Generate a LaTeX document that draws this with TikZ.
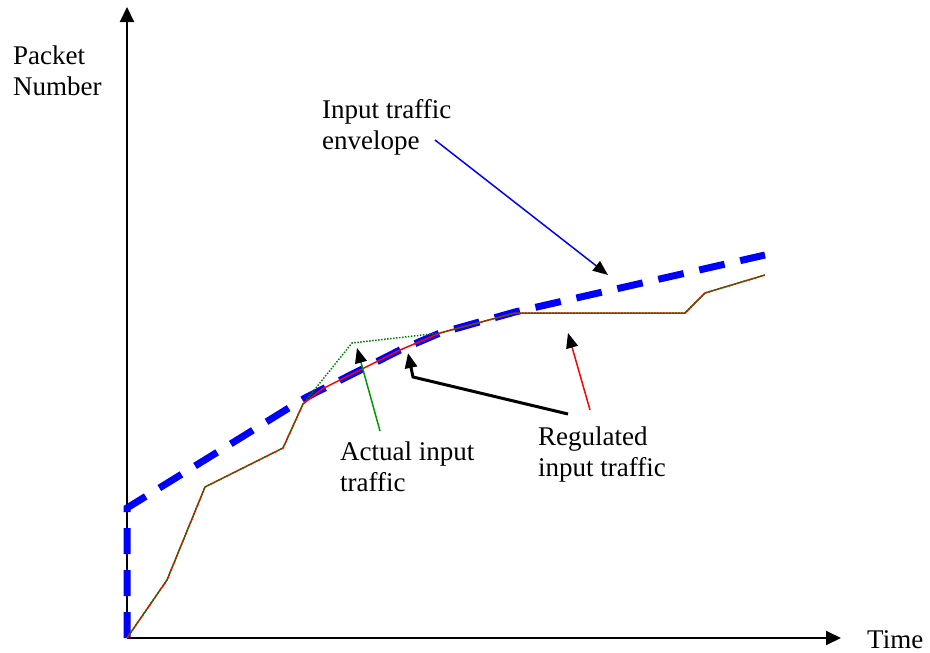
\documentclass[tikz,border=0pt]{standalone}
\usepackage{fontspec}
\setmainfont{Liberation Serif}
\usetikzlibrary{positioning,arrows.meta}

\begin{document}
\begin{tikzpicture}[x=1pt, y=-1pt, font=\fontsize{27}{31}\selectfont,
	axis/.style={line width=2pt, -{Triangle[length=15pt, width=14pt]}},
	pointer/.style={line width=1.5pt, -{Triangle[black, length=15pt, width=12pt]}},
	envelope/.style={blue, line width=7pt, dash pattern=on 26pt off 16pt},
	regulated/.style={red, line width=1.5pt, line join=round},
	actual/.style={green!50!black, line width=1.5pt, line join=round, dash pattern=on 1.5pt off 1.5pt},
	lbl/.style={align=left, inner sep=0pt, anchor=north west}]
\useasboundingbox (0,0) rectangle (930,653);
% axes
\coordinate (O) at (127,638);
\coordinate (ytop) at (127,7);
\coordinate (xend) at (841,638);
\draw[axis] (O) -- (ytop);
\draw[axis] (O) -- (xend);
\node[lbl] (ylabel) at (13,46) {Packet\\Number};
\node[anchor=base west, inner sep=0pt] (xlabel) at (867,648) {Time};

% traffic curves
\draw[envelope] (O) -- (127,508) -- (305,398) -- (400,350) -- (440,333) -- (515,312) -- (765,255);
\draw[regulated] (O) -- (167,580) -- (205,487) -- (283,448) -- (303,404) -- (322,389) -- (400,350)
	-- (440,333) -- (515,313) -- (685,313) -- (705,293) -- (765,275);
\draw[actual] (O) -- (167,580) -- (205,487) -- (283,448) -- (303,404) -- (352,343) -- (440,333)
	-- (515,313) -- (685,313) -- (705,293) -- (765,275);

% labels
\node[lbl] (envlabel) at (322,99) {Input traffic\\envelope};
\node[lbl] (actlabel) at (340,442) {Actual input\\traffic};
\node[lbl] (reglabel) at (538,427) {Regulated\\input traffic};

% pointers
\coordinate (envtail) at (435,140);
\coordinate (envtip)  at (608,275);
\coordinate (acttail) at (380,431);
\coordinate (acttip)  at (357,348);
\coordinate (regtail) at (590,410);
\coordinate (regtip)  at (568,333);
\coordinate (bendtail) at (568,414);
\coordinate (bend)    at (413,377);
\coordinate (bendtip) at (408,353);
\draw[pointer, blue] (envtail) -- (envtip);
\draw[pointer, green!60!black] (acttail) -- (acttip);
\draw[pointer, red] (regtail) -- (regtip);
\draw[pointer, black, line width=3pt] (bendtail) -- (bend) -- (bendtip);
\end{tikzpicture}
\end{document}
